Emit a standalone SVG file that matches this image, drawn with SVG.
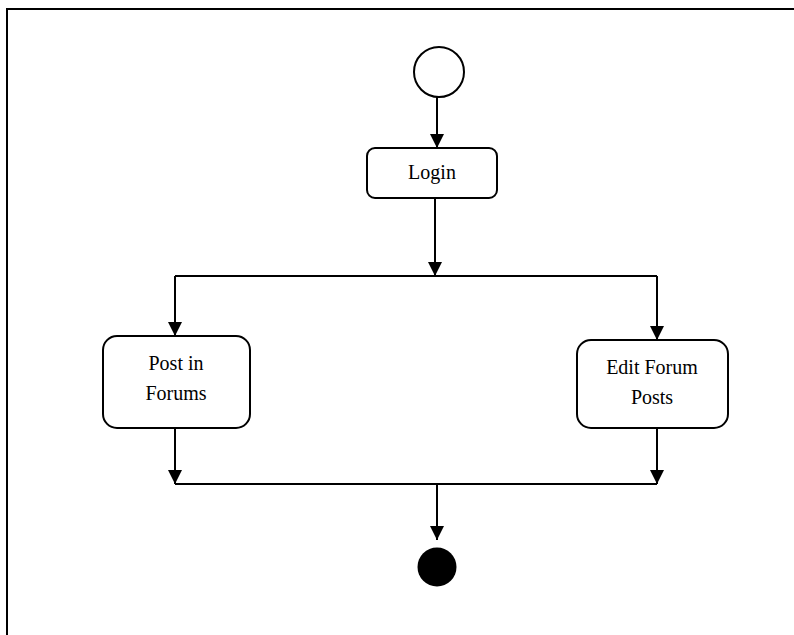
<svg xmlns="http://www.w3.org/2000/svg" width="794" height="635" viewBox="0 0 794 635">
<style>
.node{fill:#fff;stroke:#000;stroke-width:2}
.lbl{font-family:"Liberation Serif","Times New Roman",serif;font-size:20px;fill:#000;text-anchor:middle}
.edge{fill:none;stroke:#000;stroke-width:2}
</style>
<defs>
<marker id="arr" viewBox="0 0 14 14" refX="14" refY="7" markerWidth="14" markerHeight="14" markerUnits="userSpaceOnUse" orient="auto">
<path d="M0,0 L14,7 L0,14 Z" fill="#000"/>
</marker>
</defs>
<rect width="794" height="635" fill="#fff"/>
<g id="frame">
<path d="M7,635 L7,9 L794,9" fill="none" stroke="#000" stroke-width="2"/>
</g>
<g id="edges">
<line class="edge" x1="437" y1="97" x2="437" y2="148" marker-end="url(#arr)"/>
<line class="edge" x1="435" y1="198" x2="435" y2="276" marker-end="url(#arr)"/>
<path class="edge" d="M175,276 L657,276"/>
<line class="edge" x1="175" y1="276" x2="175" y2="336" marker-end="url(#arr)"/>
<line class="edge" x1="657" y1="276" x2="657" y2="340" marker-end="url(#arr)"/>
<line class="edge" x1="175" y1="428" x2="175" y2="484" marker-end="url(#arr)"/>
<line class="edge" x1="657" y1="428" x2="657" y2="484" marker-end="url(#arr)"/>
<path class="edge" d="M175,484 L657,484"/>
<line class="edge" x1="437" y1="484" x2="437" y2="540" marker-end="url(#arr)"/>
</g>
<g id="start">
<circle class="node" cx="439" cy="72" r="25"/>
</g>
<g id="login">
<rect class="node" x="367" y="148" width="130" height="50" rx="8"/>
<text class="lbl" x="432" y="179">Login</text>
</g>
<g id="post">
<rect class="node" x="103" y="336" width="147" height="92" rx="14"/>
<text class="lbl" x="176" y="370">Post in</text>
<text class="lbl" x="176" y="400">Forums</text>
</g>
<g id="edit">
<rect class="node" x="577" y="340" width="151" height="88" rx="14"/>
<text class="lbl" x="652" y="374">Edit Forum</text>
<text class="lbl" x="652" y="404">Posts</text>
</g>
<g id="end">
<circle cx="437" cy="567" r="19.5" fill="#000"/>
</g>
</svg>
